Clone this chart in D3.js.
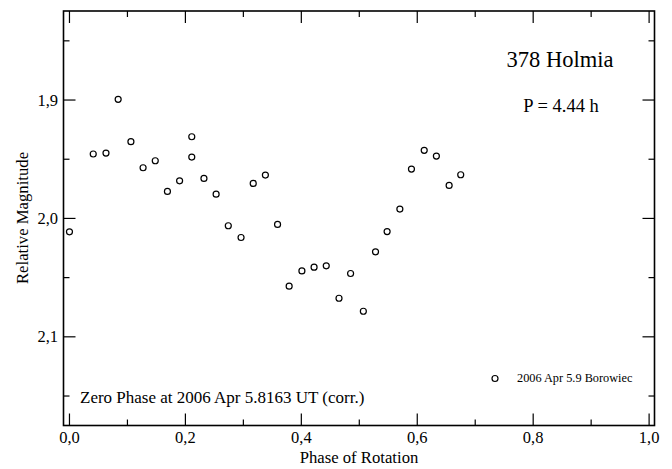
<!DOCTYPE html>
<meta charset="utf-8">
<style>
body{margin:0;background:white;}
svg{display:block;}
text{font-family:"Liberation Serif","DejaVu Serif",serif;fill:#000;}
.pt{fill:none;stroke:#000;stroke-width:1.2;}
</style>
<body>
<script src="https://cdn.jsdelivr.net/npm/d3@7"></script>
<script>
// phase and relative magnitude
var phase = [0.000,0.041,0.063,0.084,0.106,0.127,0.148,0.169,0.190,0.211,0.211,0.232,0.253,0.274,0.296,0.317,0.338,0.359,0.379,0.401,0.422,0.443,0.465,0.485,0.507,0.528,0.548,0.570,0.590,0.612,0.633,0.655,0.675];
var mag   = [2.0113,1.9456,1.9448,1.8994,1.9352,1.9572,1.9513,1.9772,1.9682,1.9310,1.9482,1.9662,1.9795,2.0062,2.0161,1.9704,1.9634,2.0051,2.0572,2.0443,2.0412,2.0400,2.0674,2.0465,2.0784,2.0282,2.0111,1.9921,1.9583,1.9425,1.9473,1.9721,1.9631];
var xMajor = [0,0.2,0.4,0.6,0.8,1.0];
var xMinor = [0.1,0.3,0.5,0.7,0.9];
var yMajor = [1.9,2.0,2.1];
var yMinor = [1.85,1.95,2.05,2.15];
var title = "378 Holmia", period = "P = 4.44 h";
var zeroNote = "Zero Phase at 2006 Apr 5.8163 UT (corr.)";
var legendLabel = "2006 Apr 5.9 Borowiec";

var W = 672, H = 469;
var L = 63.5, R = 654.5, T = 11, B = 425.5;
var x = d3.scaleLinear().domain([-0.0103, 1.0093]).range([L, R]);
var y = d3.scaleLinear().domain([1.8248, 2.1749]).range([T, B]);
function fmt(v){ return d3.format(".1f")(v).replace(".", ","); }

var svg = d3.select("body").append("svg").attr("width", W).attr("height", H);

// ticks, inward on all four sides
var tk = svg.append("g").attr("stroke", "#000").attr("stroke-width", 1.2);
function xt(v, len){
  tk.append("line").attr("x1", x(v)).attr("x2", x(v)).attr("y1", B).attr("y2", B - len);
  tk.append("line").attr("x1", x(v)).attr("x2", x(v)).attr("y1", T).attr("y2", T + len);
}
function yt(v, len){
  tk.append("line").attr("y1", y(v)).attr("y2", y(v)).attr("x1", L).attr("x2", L + len);
  tk.append("line").attr("y1", y(v)).attr("y2", y(v)).attr("x1", R).attr("x2", R - len);
}
xMajor.forEach(function(v){ xt(v, 12); });
xMinor.forEach(function(v){ xt(v, 6); });
yMajor.forEach(function(v){ yt(v, 12); });
yMinor.forEach(function(v){ yt(v, 6); });

svg.append("rect").attr("x", L).attr("y", T).attr("width", R - L).attr("height", B - T)
  .attr("fill", "none").attr("stroke", "#000").attr("stroke-width", 1.6);

svg.selectAll(".xl").data(xMajor).enter().append("text")
  .attr("x", function(d){ return x(d); }).attr("y", 443)
  .attr("text-anchor", "middle").style("font-size", "16.5px").text(fmt);
svg.selectAll(".yl").data(yMajor).enter().append("text")
  .attr("x", 58).attr("y", function(d){ return y(d) + 5.5; })
  .attr("text-anchor", "end").style("font-size", "16.5px").text(fmt);

svg.append("text").attr("x", 359).attr("y", 463).attr("text-anchor", "middle")
  .style("font-size", "16.7px").text("Phase of Rotation");
svg.append("text").attr("transform", "translate(28,218) rotate(-90)").attr("text-anchor", "middle")
  .style("font-size", "16.7px").text("Relative Magnitude");

svg.selectAll(".pt").data(phase).enter().append("circle").attr("class", "pt")
  .attr("cx", function(d){ return x(d); })
  .attr("cy", function(d, i){ return y(mag[i]); })
  .attr("r", 3);

svg.append("text").attr("x", 560).attr("y", 67).attr("text-anchor", "middle")
  .style("font-size", "22.5px").text(title);
svg.append("text").attr("x", 561).attr("y", 112).attr("text-anchor", "middle")
  .style("font-size", "18.5px").text(period);
svg.append("text").attr("x", 80).attr("y", 403).style("font-size", "17px").text(zeroNote);

svg.append("circle").attr("class", "pt").attr("cx", 495).attr("cy", 378.5).attr("r", 3);
svg.append("text").attr("x", 517).attr("y", 381.5).style("font-size", "12.3px").text(legendLabel);
</script>
</body>
